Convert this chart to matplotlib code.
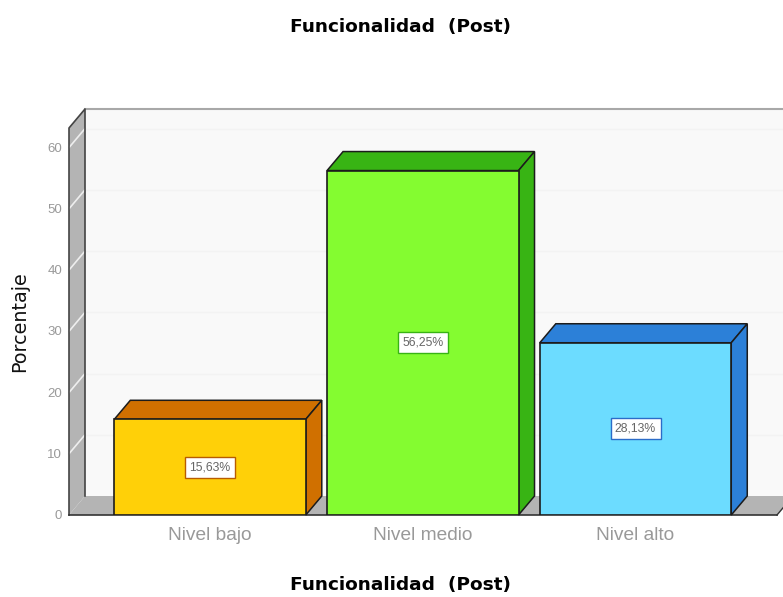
import matplotlib
matplotlib.use("Agg")
import matplotlib.pyplot as plt
from matplotlib.patches import Polygon

categories = ["Nivel bajo", "Nivel medio", "Nivel alto"]
percentages = [15.63, 56.25, 28.13]
value_labels = ["15,63%", "56,25%", "28,13%"]
y_ticks = [0, 10, 20, 30, 40, 50, 60]
axis_title = "Funcionalidad  (Post)"
y_title = "Porcentaje"

front_colors = ["#ffd008", "#84fc30", "#6cdcff"]
shade_colors = ["#d07000", "#38b414", "#2c80d8"]
box_edges = ["#b85c00", "#38b414", "#2c6cc8"]

W, H = 783, 597
fig = plt.figure(figsize=(W / 100, H / 100), dpi=100, facecolor="white")
ax = fig.add_axes([69 / W, 82 / H, 708 / W, 387 / H])
ax.set_xlim(-0.663, 2.665)
ax.set_ylim(0, 63.2)
ax.axis("off")

# Depth of the pseudo-3D extrusion, in data units
x_per_px = (2.665 + 0.663) / 708
y_per_px = 63.2 / 387
dx, dy = 16 * x_per_px, 19 * y_per_px
x0, x1 = ax.get_xlim()
ytop = ax.get_ylim()[1]


def poly(points, face, edge="none", lw=0.0, z=1):
    ax.add_patch(Polygon(points, closed=True, facecolor=face, edgecolor=edge,
                         linewidth=lw, zorder=z, clip_on=False))


# Back wall, floor and left wall
poly([(x0 + dx, dy), (x1 + dx, dy), (x1 + dx, ytop + dy), (x0 + dx, ytop + dy)],
     "#f9f9f9", z=1)
ax.plot([x0 + dx, x1 + dx], [ytop + dy, ytop + dy], color="#a8a8a8", lw=1.5, zorder=2, clip_on=False)
for t in y_ticks[1:]:
    ax.plot([x0 + dx, x1 + dx], [t + dy, t + dy], color="#f3f3f3", lw=1.0, zorder=2, clip_on=False)
poly([(x0, 0), (x1, 0), (x1 + dx, dy), (x0 + dx, dy)], "#b4b4b4", z=2)
poly([(x0, 0), (x0 + dx, dy), (x0 + dx, ytop + dy), (x0, ytop)], "#b4b4b4", z=2)
for t in y_ticks[1:]:
    ax.plot([x0, x0 + dx], [t, t + dy], color="#eeeeee", lw=1.2, zorder=3, clip_on=False)
ax.plot([x0, x0, x0 + dx, x0 + dx], [0, ytop, ytop + dy, dy], color="#444444", lw=1.2, zorder=3, clip_on=False)
ax.plot([x0, x1], [0, 0], color="#333333", lw=1.2, zorder=3, clip_on=False)
ax.plot([x1, x1 + dx], [0, dy], color="#333333", lw=1.0, zorder=3, clip_on=False)

# Extruded bars
bar_width = 0.9
for i, (v, front, shade, box, label) in enumerate(
        zip(percentages, front_colors, shade_colors, box_edges, value_labels)):
    left, right = i - bar_width / 2, i + bar_width / 2
    poly([(left, v), (right, v), (right + dx, v + dy), (left + dx, v + dy)],
         shade, "#1c1c1c", 1.1, z=4)
    poly([(right, 0), (right + dx, dy), (right + dx, v + dy), (right, v)],
         shade, "#1c1c1c", 1.1, z=4)
    ax.bar(i, v, width=bar_width, color=front, edgecolor="#1c1c1c",
           linewidth=1.2, zorder=5)
    ax.text(i, v / 2, label, ha="center", va="center", fontsize=8.8,
            color="#666666", family="Liberation Sans", zorder=6,
            bbox=dict(boxstyle="square,pad=0.36", facecolor="white",
                      edgecolor=box, linewidth=1.0))

# Tick labels are placed by hand since the axes frame is hidden
for t in y_ticks:
    ax.annotate(str(t), (x0, t), xytext=(-7, -1), textcoords="offset pixels",
                ha="right", va="center", fontsize=9.5, color="#999999",
                family="Liberation Sans")
for i, c in enumerate(categories):
    ax.annotate(c, (i, 0), xytext=(0, -20), textcoords="offset pixels",
                ha="center", va="center", fontsize=13.8, color="#999999",
                family="Liberation Sans")

fig.text(400 / W, 1 - 27 / H, axis_title, ha="center", va="center",
         fontsize=13.3, fontweight="bold", family="DejaVu Sans", color="black")
fig.text(400 / W, 1 - 585 / H, axis_title, ha="center", va="center",
         fontsize=13.3, fontweight="bold", family="DejaVu Sans", color="black")
fig.text(20 / W, 1 - 322 / H, y_title, rotation=90, ha="center", va="center",
         fontsize=13.8, family="DejaVu Sans", color="#111111")

fig.savefig("out.png", dpi=100, facecolor="white")
